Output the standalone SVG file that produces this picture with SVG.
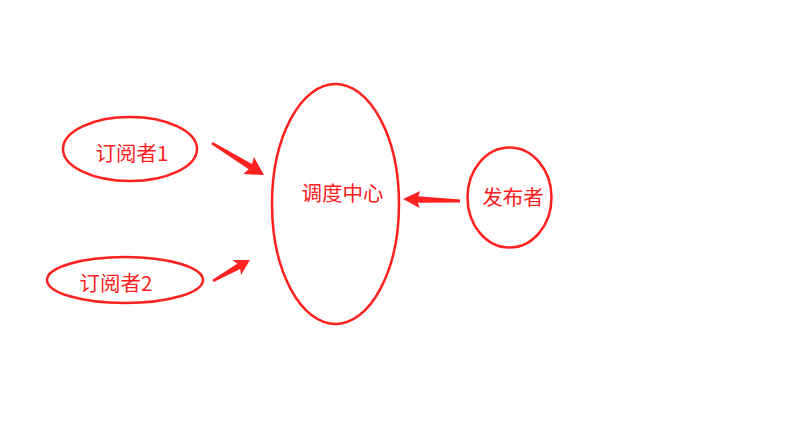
<svg xmlns="http://www.w3.org/2000/svg" width="791" height="437" viewBox="0 0 791 437">
<style>
.n{fill:none;stroke:#ff2020;stroke-width:2.5}
.t{fill:#ff2020;font-family:"Noto Sans CJK SC","Microsoft YaHei",sans-serif;font-size:20.5px;text-anchor:middle}
.a{fill:#ff2020;stroke:none}
</style>
<rect width="791" height="437" fill="#ffffff"/>
<g id="sub1"><ellipse class="n" cx="130" cy="149" rx="67" ry="32"/><text class="t" x="132" y="160.5">订阅者1</text></g>
<g id="sub2"><ellipse class="n" cx="125" cy="280" rx="78" ry="23"/><text class="t" x="116" y="290.5">订阅者2</text></g>
<g id="center"><ellipse class="n" cx="335.5" cy="204" rx="63.5" ry="120"/><text class="t" x="342.5" y="200.5">调度中心</text></g>
<g id="pub"><ellipse class="n" cx="509.5" cy="197.5" rx="42" ry="50"/><text class="t" x="513" y="204.5">发布者</text></g>
<g id="connectors">
<polygon class="a" transform="translate(264,175) rotate(31.6)" points="0,0 -18,-10 -16,-3.2 -61,-1.3 -61,1.3 -16,3.2 -18,10"/>
<polygon class="a" transform="translate(250,260) rotate(-29.6)" points="0,0 -15,-8.5 -13,-3 -42.5,-1.3 -42.5,1.3 -13,3 -15,8.5"/>
<polygon class="a" transform="translate(403,199) rotate(182)" points="0,0 -17,-8.5 -15,-3.2 -57,-1.4 -57,1.4 -15,3.2 -17,8.5"/>
</g>
</svg>
